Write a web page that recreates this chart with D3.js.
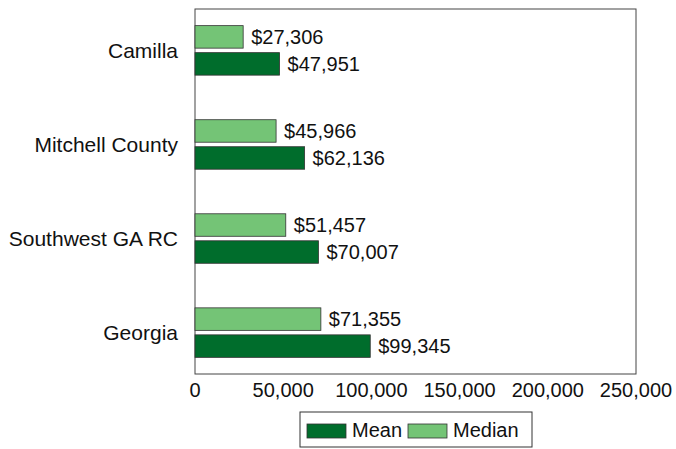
<!DOCTYPE html>
<html>
<head>
<meta charset="utf-8">
<script src="https://cdn.jsdelivr.net/npm/d3@7"></script>
<style>
  body { margin: 0; background: #fff; }
  text { font-family: "Liberation Sans", Arial, sans-serif; fill: #111; }
</style>
</head>
<body>
<div id="chart"></div>
<script>
// Chart data
const categories = ["Camilla", "Mitchell County", "Southwest GA RC", "Georgia"];
const meanValues = [47951, 62136, 70007, 99345];
const medianValues = [27306, 45966, 51457, 71355];
const xTicks = [0, 50000, 100000, 150000, 200000, 250000];
const seriesNames = ["Mean", "Median"];

const COLORS = { MEAN: "#006d2c", MEDIAN: "#74c476" };

const width = 676, height = 449;
const plot = { left: 195, right: 636, top: 9, bottom: 374 };
const barH = 22.5;   // height of each bar
const barGap = 4.5;  // space between median and mean bars
const fontSize = 20;

const svg = d3.select("#chart").append("svg")
    .attr("width", width)
    .attr("height", height);

const x = d3.scaleLinear()
    .domain([0, 250000])
    .range([plot.left, plot.right]);

const y = d3.scalePoint()
    .domain(categories)
    .range([plot.top, plot.bottom])
    .padding(0.44);

const fmt = d3.format(",");

// Plot frame
svg.append("rect")
    .attr("x", plot.left)
    .attr("y", plot.top)
    .attr("width", plot.right - plot.left)
    .attr("height", plot.bottom - plot.top)
    .attr("fill", "none")
    .attr("stroke", "#444")
    .attr("stroke-width", 1);

// Category labels
svg.selectAll(".catLabel")
    .data(categories)
    .enter()
    .append("text")
    .attr("class", "catLabel")
    .attr("x", plot.left - 17)
    .attr("y", d => y(d))
    .attr("dy", "0.35em")
    .attr("text-anchor", "end")
    .attr("font-size", 21)
    .text(d => d);

// Tick labels
svg.selectAll(".tickLabel")
    .data(xTicks)
    .enter()
    .append("text")
    .attr("class", "tickLabel")
    .attr("x", d => x(d))
    .attr("y", plot.bottom + 23)
    .attr("text-anchor", "middle")
    .attr("font-size", fontSize)
    .text(d => fmt(d));

// Bars: median above, mean below
const rows = categories.map((c, i) => ({ cat: c, mean: meanValues[i], median: medianValues[i] }));

function drawSeries(key, color, offset) {
    svg.selectAll(".bar-" + key)
        .data(rows)
        .enter()
        .append("rect")
        .attr("class", "bar-" + key)
        .attr("x", x(0))
        .attr("y", d => y(d.cat) + offset)
        .attr("width", d => x(d[key]) - x(0))
        .attr("height", barH)
        .attr("fill", color)
        .attr("stroke", "#333")
        .attr("stroke-width", 0.8);

    svg.selectAll(".val-" + key)
        .data(rows)
        .enter()
        .append("text")
        .attr("class", "val-" + key)
        .attr("x", d => x(d[key]) + 8)
        .attr("y", d => y(d.cat) + offset + barH / 2)
        .attr("dy", "0.34em")
        .attr("font-size", fontSize)
        .text(d => "$" + fmt(d[key]));
}

drawSeries("median", COLORS.MEDIAN, -barH - barGap / 2);
drawSeries("mean", COLORS.MEAN, barGap / 2);

// Legend
const legend = svg.append("g").attr("transform", "translate(300,412)");
legend.append("rect")
    .attr("width", 232)
    .attr("height", 35)
    .attr("fill", "#fff")
    .attr("stroke", "#333")
    .attr("stroke-width", 1);

const legendItems = [
    { name: seriesNames[0], color: COLORS.MEAN, x: 7 },
    { name: seriesNames[1], color: COLORS.MEDIAN, x: 108 }
];
const items = legend.selectAll(".legendItem")
    .data(legendItems)
    .enter()
    .append("g")
    .attr("transform", d => "translate(" + d.x + ",12)");
items.append("rect")
    .attr("width", 39)
    .attr("height", 14)
    .attr("fill", d => d.color)
    .attr("stroke", "#333")
    .attr("stroke-width", 0.8);
items.append("text")
    .attr("x", 45)
    .attr("y", 7)
    .attr("dy", "0.3em")
    .attr("font-size", fontSize)
    .text(d => d.name);
</script>
</body>
</html>
